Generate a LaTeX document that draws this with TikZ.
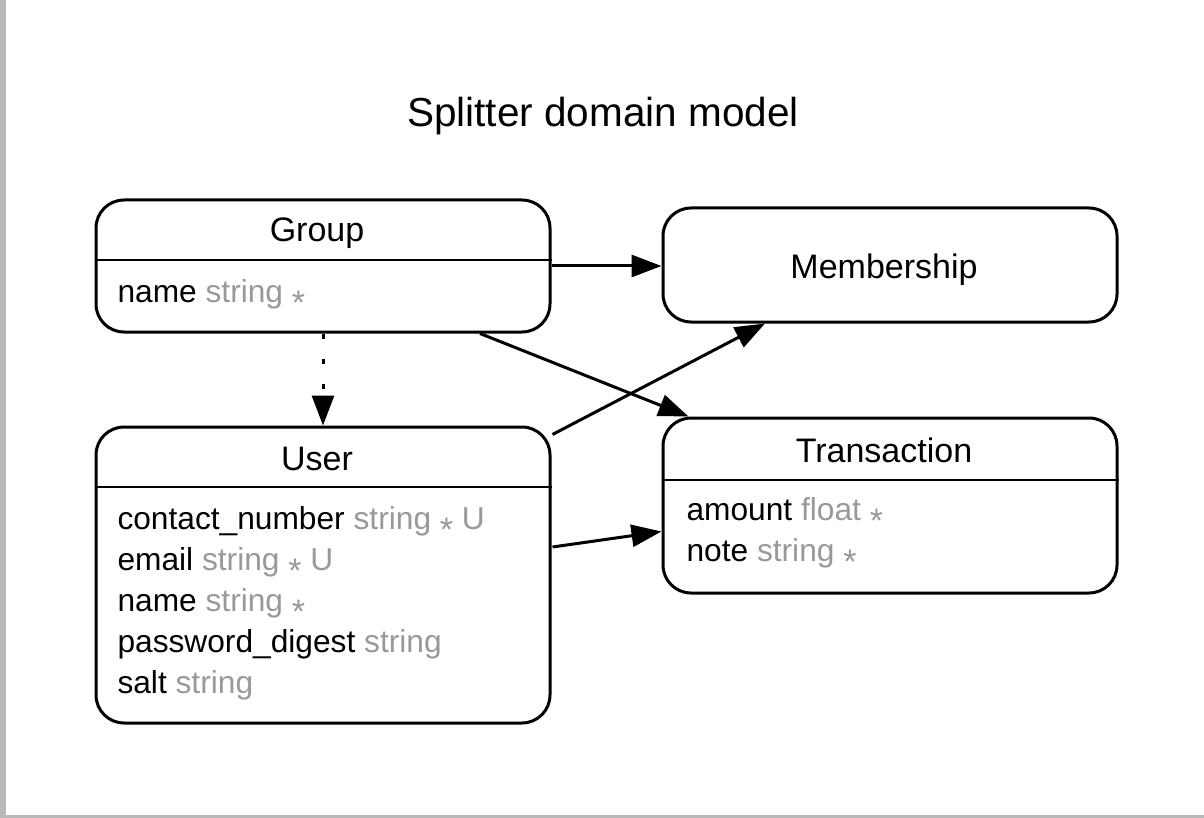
\documentclass[tikz,border=0pt]{standalone}
\usepackage{fontspec}
\setmainfont{Liberation Sans}
\usetikzlibrary{arrows.meta,calc}

\definecolor{typegray}{HTML}{999999}
\newcommand\coltype[1]{\textcolor{typegray}{#1}}
\newcommand\notnull{\textcolor{typegray}{\raisebox{-12pt}{\fontsize{34}{34}\selectfont *}}}

\begin{document}
\begin{tikzpicture}[x=1pt,y=-1pt,line width=3pt,>={Triangle[length=30pt,width=22pt]},
    entity/.style={draw,rounded corners=28pt,minimum width=454pt,inner sep=0pt},
    head/.style={anchor=base,font=\fontsize{34}{40}\selectfont},
    attr/.style={anchor=base west,inner sep=0pt,font=\fontsize{31.7}{37}\selectfont}]
      % page with its shadow edges
      \useasboundingbox (0,0) rectangle (1204,818);
      \fill[gray!55] (0,0) rectangle (6,818);
      \fill[gray!55] (0,815) rectangle (1204,818);
      % title
      \node[anchor=base,font=\fontsize{40.5}{46}\selectfont] (title) at (603,127) {Splitter domain model};
      % Group entity
      \node[entity,minimum height=132pt] (group) at (323,266) {};
      \node[head] (group-head) at (317,242) {Group};
      \draw[line width=2.6pt] ($(group.west)+(0,-6)$) -- ($(group.east)+(0,-6)$);
      \node[attr] (group-name) at (116,302) {name \coltype{string} \notnull};
      % Membership entity
      \node[entity,minimum height=114pt] (membership) at (890,265) {};
      \node[head] (membership-head) at (884,278) {Membership};
      % User entity
      \node[entity,minimum height=296pt] (user) at (323,575) {};
      \node[head] (user-head) at (317,470) {User};
      \draw[line width=2.6pt] ($(user.west)+(0,-88)$) -- ($(user.east)+(0,-88)$);
      \node[attr] (user-contact) at (116,529) {contact\_number \coltype{string} \notnull{} \coltype{U}};
      \node[attr] (user-email) at (116,570) {email \coltype{string} \notnull{} \coltype{U}};
      \node[attr] (user-name) at (116,611) {name \coltype{string} \notnull};
      \node[attr] (user-digest) at (116,652) {password\_digest \coltype{string}};
      \node[attr] (user-salt) at (116,693) {salt \coltype{string}};
      % Transaction entity
      \node[entity,minimum height=175pt] (transaction) at (890,505.5) {};
      \node[head] (transaction-head) at (884,462) {Transaction};
      \draw[line width=2.6pt] ($(transaction.west)+(0,-25.5)$) -- ($(transaction.east)+(0,-25.5)$);
      \node[attr] (transaction-amount) at (685,520) {amount \coltype{float} \notnull};
      \node[attr] (transaction-note) at (685,561) {note \coltype{string} \notnull};
      % associations
      \draw[->] (group.east) -- (membership.west |- group.east);
      \draw[->] ($(group.south)+(157,0)$) -- ($(transaction.north west)+(27,0)$);
      \draw[->] ($(user.north east)+(1,9)$) -- ($(membership.south)+(-125,0)$);
      \draw[->] ($(user.east)+(1,-28)$) -- ($(transaction.west)+(0,26)$);
      % dotted link from group to user
      \draw[->,dash pattern=on 5pt off 20pt] (group.south) -- (user.north);
    \end{tikzpicture}
\end{document}
